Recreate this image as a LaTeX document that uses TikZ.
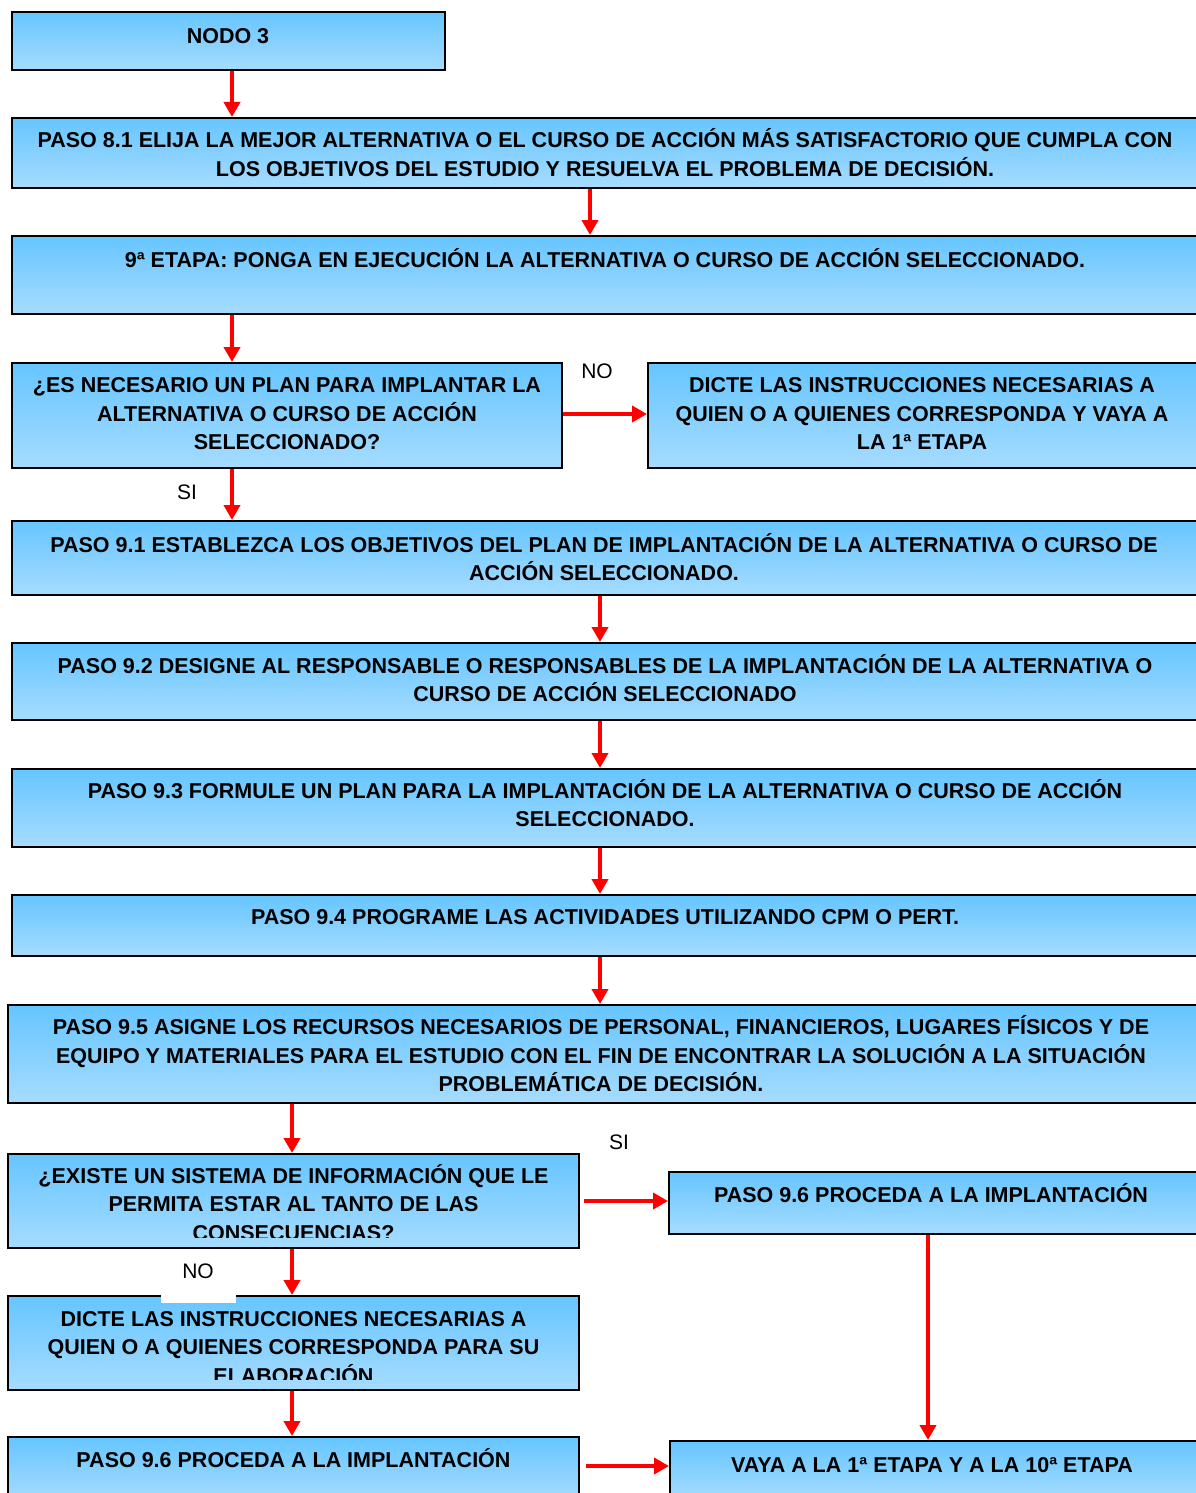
\documentclass[tikz,border=0pt]{standalone}
\usepackage{fontspec}
\setmainfont{Liberation Sans}
\usetikzlibrary{arrows.meta,calc}
\definecolor{boxtop}{RGB}{102,197,255}
\definecolor{boxbot}{RGB}{166,220,255}
\definecolor{flow}{RGB}{255,0,0}
\tikzset{
  box/.style={draw=black, line width=1pt, top color=boxtop, bottom color=boxbot, inner sep=0pt},
  txt/.style={font=\fontsize{10.75}{14.25}\selectfont\bfseries, align=center, inner sep=0pt, anchor=base},
  lbl/.style={font=\fontsize{10.5}{12}\selectfont, inner sep=0pt},
  flowarrow/.style={draw=flow, line width=2pt, -{Triangle[length=7.5pt,width=8pt]}},
}
% box given by its corners in pixel units: name, x1, y1, x2, y2
\newcommand{\flowbox}[5]{%
  \node[box, minimum width={(#4-#2)*0.5pt}, minimum height={(#5-#3)*0.5pt}]
    (#1) at ({(#2+#4)/2},{(#3+#5)/2}) {};}
\begin{document}
\begin{tikzpicture}[x=0.5pt, y=-0.5pt]
\useasboundingbox (0,0) rectangle (1195,1493);

% boxes
\flowbox{nodo}{12}{12}{445}{70}
\flowbox{p81}{12}{118}{1198}{188}
\flowbox{e9}{12}{236}{1198}{314}
\flowbox{q1}{12}{363}{562}{468}
\flowbox{d1}{648}{363}{1198}{468}
\flowbox{p91}{12}{521}{1198}{595}
\flowbox{p92}{12}{643}{1198}{720}
\flowbox{p93}{12}{769}{1198}{847}
\flowbox{p94}{12}{895}{1198}{956}
\flowbox{p95}{8}{1005}{1198}{1103}
\flowbox{q2}{8}{1154}{579}{1248}
\flowbox{p96r}{669}{1172}{1198}{1234}
\flowbox{d2}{8}{1296}{579}{1390}
\flowbox{p96l}{8}{1437}{579}{1500}
\flowbox{vaya}{670}{1441}{1198}{1500}

% texts (each placed at the baseline of its last line)
\node[txt] (tnodo) at (228,43.5) {NODO 3};
\node[txt] (t81) at (605,176.5) {PASO 8.1 ELIJA LA MEJOR ALTERNATIVA O EL CURSO DE ACCIÓN MÁS SATISFACTORIO QUE CUMPLA CON\\LOS OBJETIVOS DEL ESTUDIO Y RESUELVA EL PROBLEMA DE DECISIÓN.};
\node[txt] (te9) at (605,267.5) {9ª ETAPA: PONGA EN EJECUCIÓN LA ALTERNATIVA O CURSO DE ACCIÓN SELECCIONADO.};
\node[txt] (tq1) at (287,449.5) {¿ES NECESARIO UN PLAN PARA IMPLANTAR LA\\ALTERNATIVA O CURSO DE ACCIÓN\\SELECCIONADO?};
\node[txt] (td1) at (922,449.5) {DICTE LAS INSTRUCCIONES NECESARIAS A\\QUIEN O A QUIENES CORRESPONDA Y VAYA A\\LA 1ª ETAPA};
\node[txt] (t91) at (604,580.5) {PASO 9.1 ESTABLEZCA LOS OBJETIVOS DEL PLAN DE IMPLANTACIÓN DE LA ALTERNATIVA O CURSO DE\\ACCIÓN SELECCIONADO.};
\node[txt] (t92) at (605,701.5) {PASO 9.2 DESIGNE AL RESPONSABLE O RESPONSABLES DE LA IMPLANTACIÓN DE LA ALTERNATIVA O\\CURSO DE ACCIÓN SELECCIONADO};
\node[txt] (t93) at (605,826.5) {PASO 9.3 FORMULE UN PLAN PARA LA IMPLANTACIÓN DE LA ALTERNATIVA O CURSO DE ACCIÓN\\SELECCIONADO.};
\node[txt] (t94) at (605,924.5) {PASO 9.4 PROGRAME LAS ACTIVIDADES UTILIZANDO CPM O PERT.};
\node[txt] (t95) at (601,1091.5) {PASO 9.5 ASIGNE LOS RECURSOS NECESARIOS DE PERSONAL, FINANCIEROS, LUGARES FÍSICOS Y DE\\EQUIPO Y MATERIALES PARA EL ESTUDIO CON EL FIN DE ENCONTRAR LA SOLUCIÓN A LA SITUACIÓN\\PROBLEMÁTICA DE DECISIÓN.};
\begin{scope}
  \clip (q2.north west) rectangle ($(q2.south east)+(0,-12)$);
  \node[txt] (tq2) at (293.5,1240) {¿EXISTE UN SISTEMA DE INFORMACIÓN QUE LE\\PERMITA ESTAR AL TANTO DE LAS\\CONSECUENCIAS?};
\end{scope}
\node[txt] (t96r) at (931,1202.5) {PASO 9.6 PROCEDA A LA IMPLANTACIÓN};
\begin{scope}
  \clip (d2.north west) rectangle ($(d2.south east)+(0,-12)$);
  \node[txt] (td2) at (293.5,1383) {DICTE LAS INSTRUCCIONES NECESARIAS A\\QUIEN O A QUIENES CORRESPONDA PARA SU\\ELABORACIÓN};
\end{scope}
\node[txt] (t96l) at (293.5,1467.5) {PASO 9.6 PROCEDA A LA IMPLANTACIÓN};
\node[txt] (tvaya) at (932,1472.5) {VAYA A LA 1ª ETAPA Y A LA 10ª ETAPA};

% connector columns and rows
\coordinate (xa) at (232,0);
\coordinate (xb) at (590,0);
\coordinate (xc) at (600,0);
\coordinate (xd) at (292,0);
\coordinate (xe) at (928,0);
\coordinate (ya) at (0,414);
\coordinate (yb) at (0,1201);
\coordinate (yc) at (0,1466);

% connectors
\draw[flowarrow] (nodo.south -| xa) -- (p81.north -| xa);
\draw[flowarrow] (p81.south -| xb) -- (e9.north -| xb);
\draw[flowarrow] (e9.south -| xa) -- (q1.north -| xa);
\draw[flowarrow] (q1.east |- ya) -- (d1.west |- ya);
\draw[flowarrow] (q1.south -| xa) -- (p91.north -| xa);
\draw[flowarrow] (p91.south -| xc) -- (p92.north -| xc);
\draw[flowarrow] (p92.south -| xc) -- (p93.north -| xc);
\draw[flowarrow] (p93.south -| xc) -- (p94.north -| xc);
\draw[flowarrow] (p94.south -| xc) -- (p95.north -| xc);
\draw[flowarrow] (p95.south -| xd) -- (q2.north -| xd);
\draw[flowarrow, shorten <=2pt] (q2.east |- yb) -- (p96r.west |- yb);
\draw[flowarrow] (q2.south -| xd) -- (d2.north -| xd);
\draw[flowarrow] (d2.south -| xd) -- (p96l.north -| xd);
\draw[flowarrow] (p96r.south -| xe) -- (vaya.north -| xe);
\draw[flowarrow, shorten <=3pt] (p96l.east |- yc) -- (vaya.west |- yc);

% branch labels
\node[lbl] (no1) at (597,371) {NO};
\node[lbl] (si1) at (187,492) {SI};
\node[lbl] (si2) at (619,1142) {SI};
\node[lbl, fill=white, anchor=base, minimum width=37.5pt, text height=10pt, text depth=12.5pt] (no2) at (198,1278) {NO};
\end{tikzpicture}
\end{document}
